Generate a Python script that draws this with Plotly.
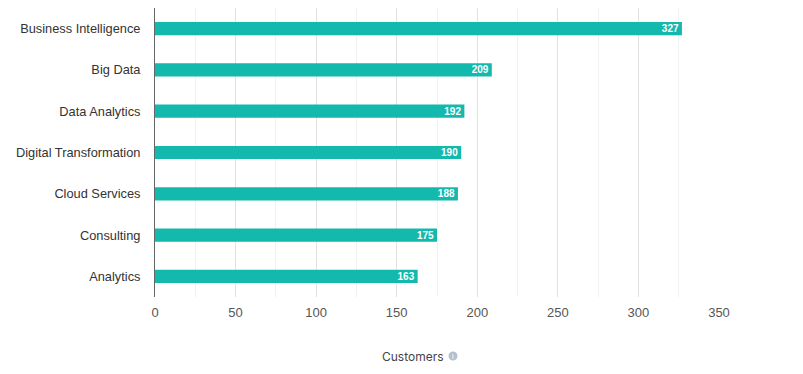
import plotly.graph_objects as go

categories = ["Business Intelligence", "Big Data", "Data Analytics", "Digital Transformation",
              "Cloud Services", "Consulting", "Analytics"]
customers = [327, 209, 192, 190, 188, 175, 163]
x_ticks = [0, 50, 100, 150, 200, 250, 300, 350]

# page body has an 8px default margin, so the figure is drawn offset by 8px
OFF = 8
W, H = 803 - OFF, 374 - OFF
ml, mr, mt, mb = 155 - OFF, 84, 8 - OFF, 77
pw, ph = W - ml - mr, H - mt - mb

def px_to_paper(xp, yp):
    # xp, yp are page coordinates
    fx, fy = xp - OFF, yp - OFF
    return (fx - ml) / pw, (H - mb - fy) / ph

fig = go.Figure(go.Bar(
    y=categories, x=customers, orientation="h",
    marker=dict(color="#14B9AE", line=dict(width=0)),
    width=0.32,
    text=[str(v) for v in customers], textposition="inside", insidetextanchor="end",
    constraintext="none",
    textfont=dict(family="Liberation Sans, Arial", size=10, color="white", weight="bold"),
    cliponaxis=False, hoverinfo="skip",
))

fig.update_layout(
    width=W, height=H, margin=dict(l=ml, r=mr, t=mt, b=mb, autoexpand=False),
    paper_bgcolor="white", plot_bgcolor="white",
    showlegend=False,
    font=dict(family="Liberation Sans, Arial", size=13, color="#333"),
    xaxis=dict(range=[0, 350], tickvals=x_ticks, showgrid=True, gridcolor="#e2e2e2", gridwidth=1,
               minor=dict(dtick=25, showgrid=True, gridcolor="#f1f1f1", gridwidth=1),
               zeroline=False, showline=False, ticks="", ticklabelstandoff=6,
               tickfont=dict(size=13, color="#555")),
    yaxis=dict(categoryorder="array", categoryarray=categories[::-1], showgrid=False,
               showline=True, linecolor="#666", linewidth=1, ticks="", ticklabelstandoff=11,
               tickfont=dict(size=12.8, color="#333"), range=[-0.5, 6.5]),
)

tx, ty = px_to_paper(413, 356)
fig.add_annotation(xref="paper", yref="paper", x=tx, y=ty, text="Customers", showarrow=False,
                   font=dict(size=12, color="#444", family="Inter, Liberation Sans"),
                   xanchor="center", yanchor="middle")

ix, iy = px_to_paper(453, 356)
fig.add_shape(type="circle", xref="paper", yref="paper", xsizemode="pixel", ysizemode="pixel",
              xanchor=ix, yanchor=iy,
              x0=-4.5, x1=4.5, y0=-4.5, y1=4.5, fillcolor="#b9bfca", line=dict(width=0))
fig.add_annotation(xref="paper", yref="paper", x=ix, y=iy, text="i", showarrow=False,
                   font=dict(size=7, color="white", family="Liberation Sans"),
                   xanchor="center", yanchor="middle")

fig.write_html("out.html")
